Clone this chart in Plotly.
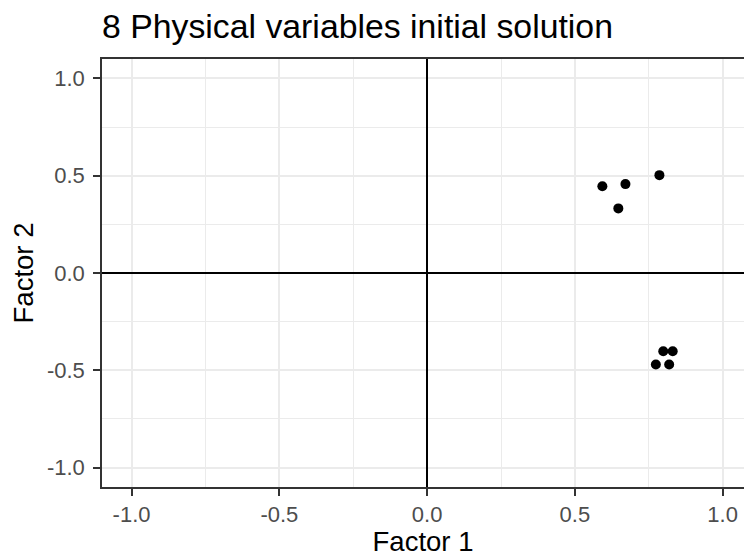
import plotly.graph_objects as go

# Factor loadings
factor1 = [0.593, 0.671, 0.786, 0.647, 0.774, 0.819, 0.799, 0.831]
factor2 = [0.446, 0.457, 0.503, 0.332, -0.470, -0.470, -0.402, -0.402]

title_text = "8 Physical variables initial solution"
x_label = "Factor 1"
y_label = "Factor 2"
tick_vals = [-1.0, -0.5, 0.0, 0.5, 1.0]
tick_text = ["-1.0", "-0.5", "0.0", "0.5", "1.0"]

FONT = "Liberation Sans, Arial, sans-serif"

fig = go.Figure()
fig.add_trace(go.Scatter(
    x=factor1, y=factor2, mode="markers",
    marker=dict(color="black", size=10, line=dict(width=0)),
    showlegend=False,
))

axis_common = dict(
    tickvals=tick_vals, ticktext=tick_text,
    showgrid=True, gridcolor="#EBEBEB", gridwidth=1.8,
    minor=dict(tickvals=[-0.75, -0.25, 0.25, 0.75], showgrid=True,
               gridcolor="#EBEBEB", gridwidth=1.0),
    zeroline=True, zerolinecolor="black", zerolinewidth=1.6,
    showline=True, linecolor="#333333", linewidth=1.5,
    ticks="outside", ticklen=7, tickwidth=1.5, tickcolor="#333333",
    tickfont=dict(family=FONT, size=22, color="#4D4D4D"),
    title_font=dict(family=FONT, size=27.5, color="black"),
)

fig.update_xaxes(range=[-1.1, 1.0722], mirror=True, ticklabelstandoff=0,
                 title=dict(text=x_label, standoff=6), **axis_common)
fig.update_yaxes(range=[-1.1, 1.1], mirror=False, ticklabelstandoff=4,
                 title=dict(text=y_label, standoff=5), **axis_common)

fig.update_layout(
    width=744, height=557,
    margin=dict(l=102, r=0, t=59, b=70, pad=0),
    paper_bgcolor="white", plot_bgcolor="white",
    title=dict(text=title_text, x=102 / 744, xanchor="left", xref="container",
               y=1 - 38 / 557, yanchor="bottom", yref="container",
               font=dict(family=FONT, size=33.8, color="black")),
)

fig.write_html("out.html", config={"displayModeBar": False},
               post_script="document.body.style.margin='0';")
